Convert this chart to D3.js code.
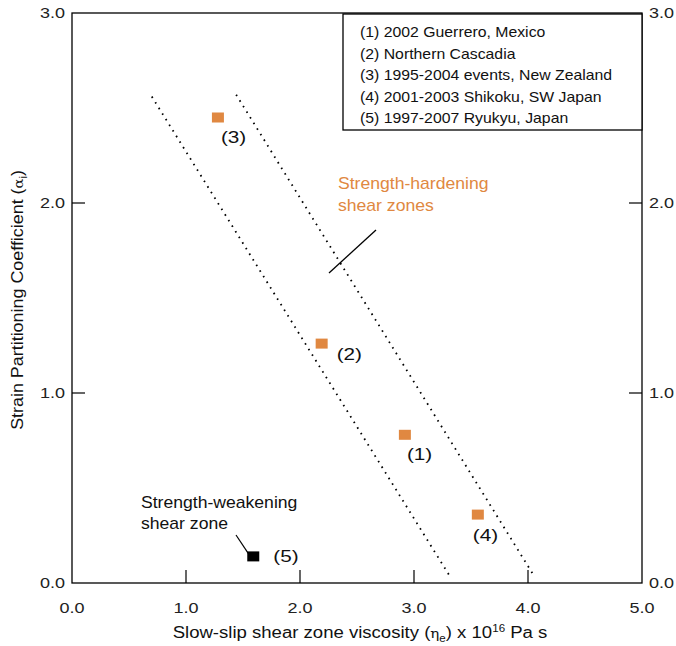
<!DOCTYPE html>
<html>
  <head>
    <meta charset="utf-8" />
    <title>Strain partitioning vs viscosity</title>
    <style>
      body { margin: 0; background: #fff; }
      svg { font-family: "Liberation Sans", Arial, sans-serif; }
    </style>
  </head>
  <body>
    <svg width="676" height="646"></svg>

    <script type="text/javascript" src="https://d3js.org/d3.v7.min.js"></script>
    <script>
      // data
      const eventIds = ["(1)", "(2)", "(3)", "(4)", "(5)"];
      const viscosity = [2.92, 2.19, 1.28, 3.56, 1.59];
      const alpha = [0.78, 1.26, 2.45, 0.36, 0.14];
      const hardening = [true, true, true, true, false];
      const legendItems = [
        "(1) 2002 Guerrero, Mexico",
        "(2) Northern Cascadia",
        "(3) 1995-2004 events, New Zealand",
        "(4) 2001-2003 Shikoku, SW Japan",
        "(5) 1997-2007 Ryukyu, Japan"
      ];
      // dotted boundaries of the strength-hardening field: [x0, y0, x1, y1]
      const leftBound = [0.7, 2.56, 3.31, 0.04];
      const rightBound = [1.44, 2.57, 4.04, 0.05];
      const xTicks = [0, 1, 2, 3, 4, 5];
      const yTicks = [0, 1, 2, 3];

      const orange = "#e08841";
      const svg = d3.select("svg");
      const x = d3.scaleLinear().domain([0, 5]).range([72, 642]);
      const y = d3.scaleLinear().domain([0, 3]).range([583, 13]);

      // the original lettering is a bit wider than Arial, so stretch it sideways
      function stext(parent, tx, ty, sx, size, anchor) {
        return parent.append("g")
          .attr("transform", `translate(${tx},${ty}) scale(${sx},1)`)
          .append("text")
          .attr("text-anchor", anchor || "start")
          .style("font-size", size + "px")
          .attr("fill", "#111");
      }

      // frame
      svg.append("rect")
        .attr("x", x(0)).attr("y", y(3))
        .attr("width", x(5) - x(0)).attr("height", y(0) - y(3))
        .attr("fill", "none").attr("stroke", "#000").attr("stroke-width", 1.3);

      // inward ticks
      const tickLen = 13;
      svg.append("g").selectAll("line")
        .data(xTicks.slice(1, -1)).join("line")
        .attr("x1", d => x(d)).attr("x2", d => x(d))
        .attr("y1", y(0)).attr("y2", y(0) - tickLen)
        .attr("stroke", "#000").attr("stroke-width", 1.2);
      [x(0), x(5)].forEach((xx, i) => {
        svg.append("g").selectAll("line")
          .data(yTicks.slice(1, -1)).join("line")
          .attr("x1", xx).attr("x2", i === 0 ? xx + tickLen : xx - tickLen)
          .attr("y1", d => y(d)).attr("y2", d => y(d))
          .attr("stroke", "#000").attr("stroke-width", 1.2);
      });

      // tick labels
      const tl = svg.append("g");
      xTicks.forEach(d => stext(tl, x(d), 613, 1.2, 15, "middle").attr("fill", "#222").text(d.toFixed(1)));
      yTicks.forEach(d => {
        stext(tl, 65, y(d) + 5, 1.2, 15, "end").attr("fill", "#222").text(d.toFixed(1));
        stext(tl, 649, y(d) + 5, 1.2, 15, "start").attr("fill", "#222").text(d.toFixed(1));
      });

      // axis titles
      const xt = stext(svg, 360, 638, 1.16, 16, "middle");
      xt.append("tspan").text("Slow-slip shear zone viscosity (");
      xt.append("tspan").text("η").style("font-family", "DejaVu Serif").style("font-size", "13px");
      xt.append("tspan").text("e").attr("dy", 4).style("font-size", "10px");
      xt.append("tspan").text(") x 10").attr("dy", -4);
      xt.append("tspan").text("16").attr("dy", -6).style("font-size", "10px");
      xt.append("tspan").text(" Pa s").attr("dy", 6);

      const yt = svg.append("g")
        .attr("transform", "translate(23,300) rotate(-90) scale(1.12,1)")
        .append("text")
        .attr("text-anchor", "middle")
        .style("font-size", "16px").attr("fill", "#111");
      yt.append("tspan").text("Strain Partitioning Coefficient (");
      yt.append("tspan").text("α").style("font-family", "DejaVu Serif").style("font-size", "13px");
      yt.append("tspan").text("i").attr("dy", 4).style("font-size", "10px");
      yt.append("tspan").text(")").attr("dy", -4);

      // dotted boundaries
      svg.append("g").selectAll("line")
        .data([leftBound, rightBound]).join("line")
        .attr("x1", d => x(d[0])).attr("y1", d => y(d[1]))
        .attr("x2", d => x(d[2])).attr("y2", d => y(d[3]))
        .attr("stroke", "#000").attr("stroke-width", 1.8)
        .attr("stroke-dasharray", "1.6,5");

      // points
      const pts = eventIds.map((id, i) => ({ id, vx: viscosity[i], vy: alpha[i], hard: hardening[i] }));
      svg.append("g").selectAll("rect")
        .data(pts).join("rect")
        .attr("x", d => x(d.vx) - 6).attr("y", d => y(d.vy) - 5)
        .attr("width", 12).attr("height", 10)
        .attr("fill", d => d.hard ? orange : "#000");

      // point labels, placed relative to each marker (left edge of the label)
      const labelOff = [[2, 25], [15, 16], [3, 25], [-5, 26], [20, 6]];
      const pl = svg.append("g");
      pts.forEach((d, i) => {
        stext(pl, x(d.vx) + labelOff[i][0], y(d.vy) + labelOff[i][1], 1.22, 17, "start").text(d.id);
      });

      // annotations
      const hard = svg.append("g").attr("transform", "translate(338,0) scale(1.1,1)")
        .append("text").attr("fill", orange).style("font-size", "16px");
      hard.append("tspan").attr("x", 0).attr("y", 189).text("Strength-hardening");
      hard.append("tspan").attr("x", 0).attr("y", 211).text("shear zones");
      svg.append("line")
        .attr("x1", 376).attr("y1", 230).attr("x2", 329).attr("y2", 273)
        .attr("stroke", "#000").attr("stroke-width", 1.3);

      const weak = svg.append("g").attr("transform", "translate(141,0) scale(1.1,1)")
        .append("text").attr("fill", "#111").style("font-size", "16px");
      weak.append("tspan").attr("x", 0).attr("y", 508).text("Strength-weakening");
      weak.append("tspan").attr("x", 0).attr("y", 529).text("shear zone");
      svg.append("line")
        .attr("x1", 236).attr("y1", 535).attr("x2", x(viscosity[4]) - 5).attr("y2", y(alpha[4]) - 3)
        .attr("stroke", "#000").attr("stroke-width", 1.2);

      // legend box, sharing the right edge of the frame
      const lg = svg.append("g");
      lg.append("rect")
        .attr("x", 343).attr("y", 14)
        .attr("width", x(5) - 343).attr("height", 116)
        .attr("fill", "#fff").attr("stroke", "#000").attr("stroke-width", 1.3);
      legendItems.forEach((d, i) => {
        stext(lg, 360, 37 + i * 21.5, 1.13, 14, "start").text(d);
      });
    </script>
  </body>
</html>
